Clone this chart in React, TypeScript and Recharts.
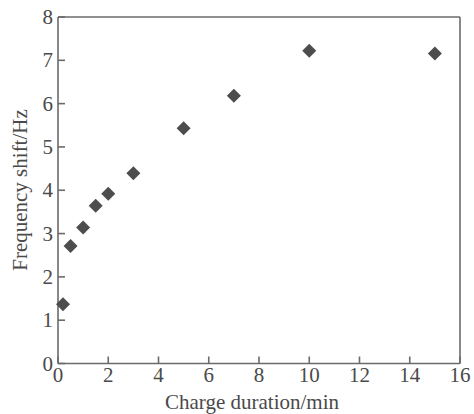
import { FC } from "react";
import {
  ScatterChart,
  Scatter,
  XAxis,
  YAxis,
  ReferenceLine,
} from "recharts";

// charge duration (min) and the measured frequency shift (Hz)
const chargeMinutes = [0.2, 0.5, 1, 1.5, 2, 3, 5, 7, 10, 15];
const freqShiftHz = [1.37, 2.71, 3.14, 3.64, 3.92, 4.39, 5.43, 6.18, 7.22, 7.16];

const xTicks = [0, 2, 4, 6, 8, 10, 12, 14, 16];
const yTicks = [0, 1, 2, 3, 4, 5, 6, 7, 8];

const AXIS = "#6b6b6b";
const TEXT = "#4a4a4a";
const MARK = "#4d4d4d";
const FONT = "'Liberation Serif', 'Times New Roman', serif";

const data = chargeMinutes.map((x, i) => ({ x, y: freqShiftHz[i] }));

const XTick = ({ x, y, payload }: any) => (
  <g>
    <line x1={x} x2={x} y1={y} y2={y - 7} stroke={AXIS} strokeWidth={1.6} />
    <text
      x={x}
      y={y + 18}
      textAnchor="middle"
      fill={TEXT}
      fontSize={21}
      fontFamily={FONT}
    >
      {payload.value}
    </text>
  </g>
);

const YTick = ({ x, y, payload }: any) => (
  <g>
    <line x1={x} x2={x + 7} y1={y} y2={y} stroke={AXIS} strokeWidth={1.6} />
    <text
      x={x - 5}
      y={y + 7}
      textAnchor="end"
      fill={TEXT}
      fontSize={21}
      fontFamily={FONT}
    >
      {payload.value}
    </text>
  </g>
);

const Diamond = ({ cx, cy }: any) => (
  <path
    d={`M${cx},${cy - 7}L${cx + 7},${cy}L${cx},${cy + 7}L${cx - 7},${cy}Z`}
    fill={MARK}
  />
);

const App: FC = () => {
  return (
    <div style={{ position: "absolute", left: 0, top: 0, background: "#fff" }}>
      <ScatterChart
        width={474}
        height={414}
        margin={{ top: 17, right: 14, bottom: 0, left: 0 }}
      >
        <XAxis
          type="number"
          dataKey="x"
          domain={[0, 16]}
          ticks={xTicks}
          height={50.5}
          tickSize={0}
          tickMargin={0}
          tickLine={false}
          tick={<XTick />}
          axisLine={{ stroke: AXIS, strokeWidth: 1.6 }}
          label={{
            content: () => (
              <text
                x={252}
                y={409}
                textAnchor="middle"
                fill={TEXT}
                fontSize={21}
                fontFamily={FONT}
              >
                Charge duration/min
              </text>
            ),
          }}
        />
        <YAxis
          type="number"
          dataKey="y"
          domain={[0, 8]}
          ticks={yTicks}
          width={58}
          tickSize={0}
          tickMargin={0}
          tickLine={false}
          tick={<YTick />}
          axisLine={{ stroke: AXIS, strokeWidth: 1.6 }}
          label={{
            content: () => (
              <text
                x={0}
                y={0}
                transform="translate(27,190) rotate(-90)"
                textAnchor="middle"
                fill={TEXT}
                fontSize={21}
                fontFamily={FONT}
              >
                Frequency shift/Hz
              </text>
            ),
          }}
        />
        <ReferenceLine y={8} stroke={AXIS} strokeWidth={1.6} />
        <ReferenceLine x={16} stroke={AXIS} strokeWidth={1.6} />
        <Scatter data={data} shape={<Diamond />} isAnimationActive={false} />
      </ScatterChart>
    </div>
  );
};

export default App;
